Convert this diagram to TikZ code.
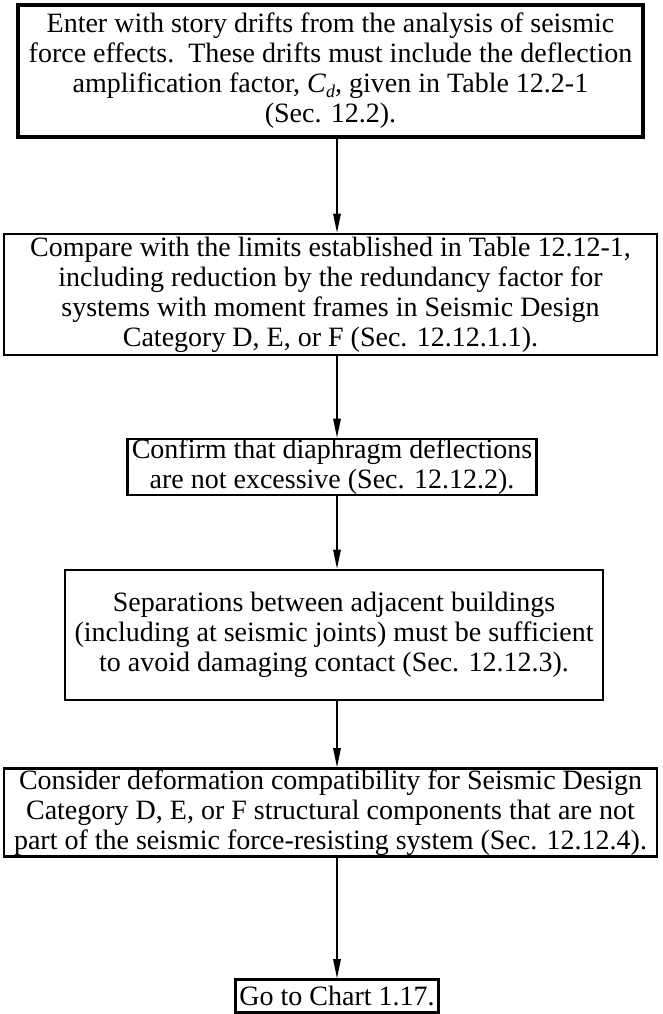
\documentclass[tikz,border=0pt]{standalone}
\usepackage{fontspec}
\setmainfont{Liberation Serif}
\usetikzlibrary{arrows.meta}
\begin{document}
\begin{tikzpicture}[x=1pt,y=-1pt,
  box/.style={draw, line width=2.6pt, align=center, inner xsep=4pt, inner ysep=0pt,
    font=\fontsize{28}{30}\selectfont},
  thickbox/.style={box, line width=3.6pt},
  flow/.style={line width=1.4pt, -{Triangle[length=19pt,width=7.5pt]}}]
\useasboundingbox (0,0) rectangle (662,1014);
\node[thickbox, minimum width=625, minimum height=132] (b1) at (330.5,71)
  {Enter with story drifts from the analysis of seismic\\
   force effects.\ \ These drifts must include the deflection\\
   amplification factor, \textit{C}\raisebox{-0.15em}{\fontsize{18}{18}\selectfont\textit{d}}, given in Table 12.2-1\\
   (Sec. 12.2).};
\node[box, minimum width=653, minimum height=121] (b2) at (330.5,294.5)
  {Compare with the limits established in Table 12.12-1,\\
   including reduction by the redundancy factor for\\
   systems with moment frames in Seismic Design\\
   Category D, E, or F (Sec. 12.12.1.1).};
\node[box, minimum height=56] (b3) at (332,467)
  {Confirm that diaphragm deflections\\
   are not excessive (Sec. 12.12.2).};
\node[box, minimum width=538, minimum height=130] (b4) at (334,635)
  {Separations between adjacent buildings\\
   (including at seismic joints) must be sufficient\\
   to avoid damaging contact (Sec. 12.12.3).};
\node[box, minimum width=653, minimum height=88] (b5) at (330.5,812.5)
  {Consider deformation compatibility for Seismic Design\\
   Category D, E, or F structural components that are not\\
   part of the seismic force-resisting system (Sec. 12.12.4).};
\node[box, minimum height=33] (b6) at (337,996)
  {Go to Chart 1.17.};
\coordinate (ax) at (337,0);
\draw[flow] (b1.south -| ax) -- (b2.north -| ax);
\draw[flow] (b2.south -| ax) -- (b3.north -| ax);
\draw[flow] (b3.south -| ax) -- (b4.north -| ax);
\draw[flow] (b4.south -| ax) -- (b5.north -| ax);
\draw[flow] (b5.south -| ax) -- (b6.north -| ax);
\end{tikzpicture}
\end{document}
